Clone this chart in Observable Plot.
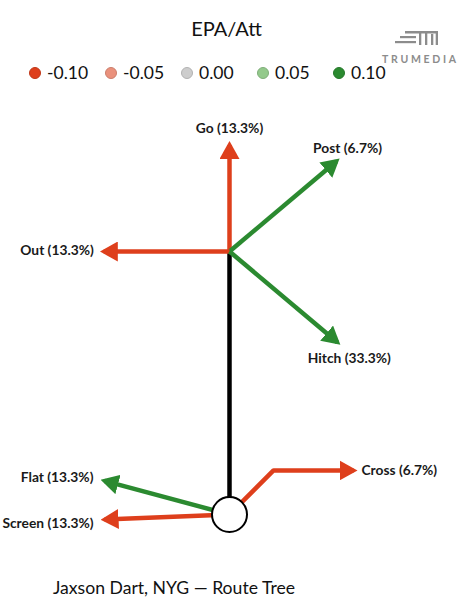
<!DOCTYPE html>
<html><head><meta charset="utf-8">
<script src="https://cdn.jsdelivr.net/npm/d3@7"></script>
<script src="https://cdn.jsdelivr.net/npm/@observablehq/plot@0.6"></script>
<style>
html,body{margin:0;padding:0;background:#fff;}
#wrap{position:relative;width:466px;height:606px;overflow:hidden;font-family:Lato,"Open Sans",sans-serif;color:#111;}
#title{position:absolute;left:0;width:453px;top:14px;text-align:center;font-size:20px;line-height:28px;}
#legend{position:absolute;left:29px;top:62px;height:22px;display:flex;}
.item{width:76px;display:flex;align-items:center;font-size:17.5px;line-height:22px;}
.dot{width:12px;height:12px;border-radius:50%;box-sizing:border-box;margin-right:6px;flex:none;}
#logo{position:absolute;left:378px;top:24px;}
#chart{position:absolute;left:0;top:100px;}
#caption{position:absolute;left:53px;top:576px;font-size:17.6px;line-height:24px;}
</style></head><body>
<div id="wrap">
  <div id="title">EPA/Att</div>
  <svg id="logo" width="84" height="46" viewBox="0 0 84 46">
    <rect x="27" y="7" width="33" height="2.5" fill="#8c8c8c"/>
    <rect x="22" y="12" width="16" height="2.2" fill="#8c8c8c"/>
    <rect x="17" y="17" width="21" height="2.2" fill="#8c8c8c"/>
    <rect x="41" y="7" width="2.3" height="14" fill="#8c8c8c"/>
    <rect x="47" y="7" width="2.3" height="14" fill="#8c8c8c"/>
    <rect x="53" y="10" width="2.3" height="11" fill="#8c8c8c"/>
    <rect x="57.7" y="7" width="2.3" height="14" fill="#8c8c8c"/>
    <text x="4" y="39" font-family="Lato, sans-serif" font-size="10.5" font-weight="700" letter-spacing="2.7" fill="#8c8c8c">TRUMEDIA</text>
  </svg>
  <div id="legend"></div>
  <div id="chart"></div>
  <div id="caption">Jaxson Dart, NYG — Route Tree</div>
</div>
<script>
// ---------------- data ----------------
const routeNames = ["Go", "Post", "Out", "Hitch", "Cross", "Flat", "Screen"];
const routeShare = [13.3, 6.7, 13.3, 33.3, 6.7, 13.3, 13.3];
const routeEpa   = [-0.45, 1.20, -0.62, 0.38, -0.90, 0.22, -0.55];
// route shapes (field units, origin at the alignment circle)
const routePaths = [
  [[0, 20], [0, 28.1]],
  [[0, 20], [8.14, 26.87]],
  [[0, 20], [-9.56, 20]],
  [[0, 20], [8.2, 13.1]],
  [[0, 0], [3.35, 3.35], [9.43, 3.35]],
  [[0, 0], [-9.51, 2.56]],
  [[0, 0], [-9.5, -0.38]]
];
const stemPath = [[0, 0], [0, 20]];
const legendValues = [-0.10, -0.05, 0.00, 0.05, 0.10];
const legendLabels = ["-0.10", "-0.05", "0.00", "0.05", "0.10"];
const legendColors = ["#de3f1c", "#ea917c", "#cdcdcd", "#93c98b", "#2b8a30"];

// ---------------- layout ----------------
const W = 466, H = 460, k = 13.15, cx = 229, cy = 414;
const labelPlacement = {
  Go:     {anchor: "middle", dx: 0,   dy: -16},
  Post:   {anchor: "middle", dx: 11,  dy: -12.5},
  Hitch:  {anchor: "middle", dx: 12,  dy: 16},
  Out:    {anchor: "end",    dx: -10, dy: -1},
  Cross:  {anchor: "start",  dx: 8,   dy: 0},
  Flat:   {anchor: "end",    dx: -11, dy: -3},
  Screen: {anchor: "end",    dx: -11, dy: 4}
};

const routePoints = routeNames.flatMap((name, i) =>
  routePaths[i].map(([x, y]) => ({route: name, epa: routeEpa[i], x, y})));
const stemPoints = stemPath.map(([x, y]) => ({x, y}));
const labels = routeNames.map((name, i) => {
  const end = routePaths[i][routePaths[i].length - 1];
  const p = labelPlacement[name];
  return {
    text: `${name} (${routeShare[i].toFixed(1)}%)`,
    anchor: p.anchor,
    x: end[0] + p.dx / k,
    y: end[1] - p.dy / k
  };
});

function arrowMarker(color) {
  const ns = "http://www.w3.org/2000/svg";
  const m = document.createElementNS(ns, "marker");
  m.setAttribute("viewBox", "0 -10 18 20");
  m.setAttribute("markerUnits", "userSpaceOnUse");
  m.setAttribute("markerWidth", 18);
  m.setAttribute("markerHeight", 20);
  m.setAttribute("refX", 14);
  m.setAttribute("refY", 0);
  m.setAttribute("orient", "auto");
  const p = document.createElementNS(ns, "path");
  p.setAttribute("d", "M0,-10L18,0L0,10Z");
  p.setAttribute("fill", color);
  m.appendChild(p);
  return m;
}

const textStyle = {fontFamily: "Lato, sans-serif", fontWeight: 700, fontSize: 13.8, fill: "#1a1a1a"};

const chart = Plot.plot({
  width: W, height: H, margin: 0,
  x: {domain: [-cx / k, (W - cx) / k], axis: null},
  y: {domain: [-(H - cy) / k, cy / k], axis: null},
  color: {type: "linear", domain: legendValues, range: legendColors, clamp: true},
  marks: [
    Plot.line(stemPoints, {x: "x", y: "y", stroke: "#000", strokeWidth: 4.5, strokeLinecap: "butt"}),
    Plot.line(routePoints, {x: "x", y: "y", z: "route", stroke: "epa", strokeWidth: 4.5,
      strokeLinecap: "butt", strokeLinejoin: "miter", markerEnd: arrowMarker}),
    Plot.dot([{x: 0, y: 0}], {x: "x", y: "y", r: 17.5, fill: "white", stroke: "black", strokeWidth: 2}),
    ...["start", "middle", "end"].map(a =>
      Plot.text(labels.filter(d => d.anchor === a), {x: "x", y: "y", text: "text", textAnchor: a, ...textStyle}))
  ]
});
document.getElementById("chart").appendChild(chart);

// legend from the plot's color scale
const colorScale = chart.scale("color");
const legend = document.getElementById("legend");
legendValues.forEach((v, i) => {
  const c = colorScale.apply(v);
  const item = document.createElement("div");
  item.className = "item";
  const dot = document.createElement("span");
  dot.className = "dot";
  dot.style.background = c;
  dot.style.border = "1px solid " + d3.color(c).darker(0.4).formatHex();
  const t = document.createElement("span");
  t.textContent = legendLabels[i];
  item.append(dot, t);
  legend.appendChild(item);
});
</script>
</body></html>
